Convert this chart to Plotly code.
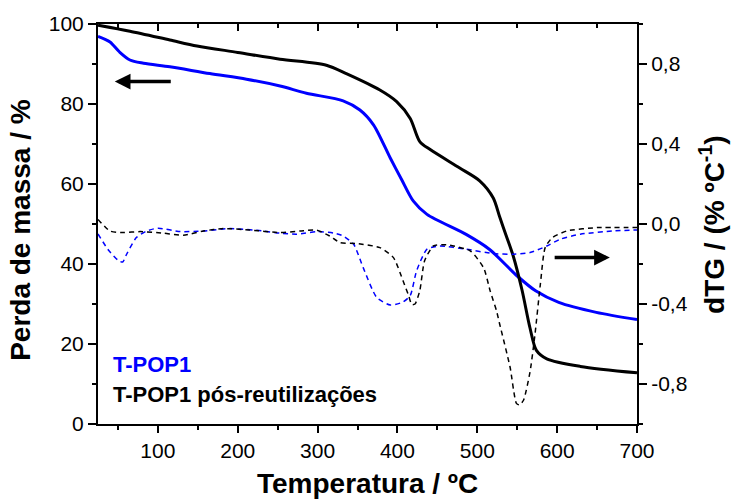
import plotly.graph_objects as go

# Thermogravimetric curves (mass %, left axis)
temp_tg_reuse = [25, 65, 115, 149, 200, 253, 311, 336, 378, 399, 416, 428, 441, 478, 503,
                 520, 528, 536, 545, 556, 566, 574, 587, 629, 700]
mass_reuse = [99.7, 98.2, 96.0, 94.5, 92.9, 91.2, 89.7, 87.6, 83.5, 80.6, 76.4, 70.6, 68.6, 64.0, 60.8,
              56.5, 51.8, 47.2, 42.0, 33.5, 24.0, 18.4, 16.3, 14.4, 12.8]

temp_tg_fresh = [25, 40, 52, 65, 82, 115, 165, 211, 253, 286, 332, 353, 370, 391, 405,
                 420, 437, 486, 515, 550, 573, 602, 649, 700]
mass_fresh = [96.9, 95.5, 93.0, 91.0, 90.2, 89.3, 87.6, 86.2, 84.5, 82.7, 80.8, 78.5, 74.8, 66.5, 61.2,
              55.7, 52.4, 47.4, 43.7, 37.0, 33.3, 30.4, 27.9, 26.1]

# Derivative curves (dTG, right axis)
temp_dtg_reuse = [25, 40, 56, 78, 107, 132, 157, 182, 215, 253, 278, 299, 315, 328, 349, 378, 395,
                  407, 414, 418, 422, 428, 434, 445, 461, 491, 508, 516, 524, 528, 541, 549, 553,
                  558, 566, 572, 579, 585, 594, 612, 650, 700]
dtg_reuse = [0.023, -0.035, -0.043, -0.038, -0.046, -0.056, -0.035, -0.023, -0.030, -0.043, -0.035,
             -0.031, -0.060, -0.093, -0.098, -0.118, -0.168, -0.284, -0.358, -0.403, -0.400, -0.333,
             -0.184, -0.110, -0.104, -0.134, -0.220, -0.333, -0.433, -0.500, -0.715, -0.897, -0.905,
             -0.880, -0.740, -0.560, -0.300, -0.118, -0.068, -0.035, -0.018, -0.018]

temp_dtg_fresh = [25, 38, 51, 56, 61, 73, 86, 100, 128, 157, 190, 232, 253, 274, 299, 320, 332, 345,
                  357, 374, 391, 407, 416, 424, 437, 453, 486, 520, 545, 566, 587, 604, 629, 670, 700]
dtg_fresh = [-0.050, -0.130, -0.184, -0.190, -0.150, -0.068, -0.035, -0.021, -0.038, -0.035, -0.023,
             -0.035, -0.046, -0.051, -0.038, -0.045, -0.060, -0.100, -0.217, -0.367, -0.405, -0.390,
             -0.358, -0.234, -0.126, -0.110, -0.126, -0.148, -0.151, -0.143, -0.110, -0.076, -0.051,
             -0.035, -0.030]

x_ticks = [100, 200, 300, 400, 500, 600, 700]
x_minor = [50, 150, 250, 350, 450, 550, 650]
y2_ticks = [-0.8, -0.4, 0.0, 0.4, 0.8]
y2_labels = ["-0,8", "-0,4", "0,0", "0,4", "0,8"]
y2_minor = [-1.0, -0.6, -0.2, 0.2, 0.6, 1.0]

FONT = "Liberation Sans, Arial, sans-serif"
BLUE = "#0000FF"
BLACK = "#000000"

fig = go.Figure()

fig.add_trace(go.Scatter(x=temp_dtg_fresh, y=dtg_fresh, yaxis="y2", mode="lines",
                         line=dict(color=BLUE, width=1.5, dash="5px,4px", shape="spline", smoothing=0.6),
                         showlegend=False, hoverinfo="skip"))
fig.add_trace(go.Scatter(x=temp_dtg_reuse, y=dtg_reuse, yaxis="y2", mode="lines",
                         line=dict(color=BLACK, width=1.5, dash="5px,4px", shape="spline", smoothing=0.6),
                         showlegend=False, hoverinfo="skip"))
fig.add_trace(go.Scatter(x=temp_tg_fresh, y=mass_fresh, mode="lines",
                         line=dict(color=BLUE, width=3, shape="spline", smoothing=0.8),
                         showlegend=False, hoverinfo="skip"))
fig.add_trace(go.Scatter(x=temp_tg_reuse, y=mass_reuse, mode="lines",
                         line=dict(color=BLACK, width=3, shape="spline", smoothing=0.8),
                         showlegend=False, hoverinfo="skip"))
# carrier for the top frame axis
fig.add_trace(go.Scatter(x=[25, 700], y=[None, None], xaxis="x2", mode="lines",
                         showlegend=False, hoverinfo="skip"))

tickfont = dict(family=FONT, size=21, color=BLACK)

fig.update_layout(
    width=731, height=500,
    margin=dict(l=98, r=94, t=22, b=76),
    paper_bgcolor="white", plot_bgcolor="white",
    showlegend=False,
    xaxis=dict(range=[25, 700], tickmode="array", tickvals=x_ticks, ticks="outside",
               ticklen=7, tickwidth=1.5, tickcolor=BLACK, showline=True, linewidth=2,
               linecolor=BLACK, showgrid=False, zeroline=False, tickfont=tickfont,
               minor=dict(tickmode="array", tickvals=x_minor, ticks="outside", ticklen=4,
                          tickwidth=1.5, tickcolor=BLACK, showgrid=False)),
    xaxis2=dict(range=[25, 700], overlaying="x", side="top", anchor="y", tickmode="array",
                tickvals=x_ticks, ticks="inside", ticklen=7, tickwidth=1.5, tickcolor=BLACK,
                showline=True, linewidth=2, linecolor=BLACK, showgrid=False, zeroline=False,
                showticklabels=False,
                minor=dict(tickmode="array", tickvals=x_minor, ticks="inside", ticklen=4,
                           tickwidth=1.5, tickcolor=BLACK, showgrid=False)),
    yaxis=dict(range=[0, 100], tickmode="linear", tick0=0, dtick=20, ticks="outside",
               ticklen=8, tickwidth=1.5, tickcolor=BLACK, showline=True, linewidth=2,
               linecolor=BLACK, showgrid=False, zeroline=False, tickfont=tickfont,
               minor=dict(tickmode="linear", tick0=10, dtick=20, ticks="outside", ticklen=4,
                          tickwidth=1.5, tickcolor=BLACK, showgrid=False)),
    yaxis2=dict(range=[-1, 1], overlaying="y", side="right", anchor="x", tickmode="array",
                tickvals=y2_ticks, ticktext=y2_labels, ticks="outside", ticklen=8, tickwidth=1.5,
                tickcolor=BLACK, showline=True, linewidth=2, linecolor=BLACK, showgrid=False,
                zeroline=False, tickfont=tickfont,
                minor=dict(tickmode="array", tickvals=y2_minor, ticks="outside", ticklen=4,
                           tickwidth=1.5, tickcolor=BLACK, showgrid=False)),
)

title_font = dict(family=FONT, size=28, color=BLACK)
fig.add_annotation(text="<b>Temperatura / ºC</b>", xref="paper", yref="paper", x=0.5, y=-0.149,
                   xanchor="center", yanchor="middle", showarrow=False, font=title_font)
fig.add_annotation(text="<b>Perda de massa / %</b>", xref="paper", yref="paper", x=-0.145, y=0.485,
                   xanchor="center", yanchor="middle", textangle=-90, showarrow=False, font=title_font)
fig.add_annotation(text="<b>dTG / (% ºC<sup>-1</sup>)</b>", xref="paper", yref="paper", x=1.139, y=0.5,
                   xanchor="center", yanchor="middle", textangle=-90, showarrow=False, font=title_font)

label_font = dict(family=FONT, size=22)
fig.add_annotation(text="<b>T-POP1</b>", xref="paper", yref="paper", x=0.024, y=0.150,
                   xanchor="left", yanchor="middle", showarrow=False,
                   font=dict(label_font, color=BLUE))
fig.add_annotation(text="<b>T-POP1 pós-reutilizações</b>", xref="paper", yref="paper", x=0.024, y=0.075,
                   xanchor="left", yanchor="middle", showarrow=False,
                   font=dict(label_font, color=BLACK))

# arrows pointing to the axis each family of curves belongs to
fig.add_annotation(x=46, y=85.6, ax=118, ay=85.6, xref="x", yref="y", axref="x", ayref="y",
                   text="", showarrow=True, arrowhead=2, arrowsize=0.9, arrowwidth=3.5,
                   arrowcolor=BLACK)
fig.add_annotation(x=666, y=-0.168, ax=595, ay=-0.168, xref="x", yref="y2", axref="x", ayref="y2",
                   text="", showarrow=True, arrowhead=2, arrowsize=0.9, arrowwidth=3.5,
                   arrowcolor=BLACK)

fig.write_html("out.html")
